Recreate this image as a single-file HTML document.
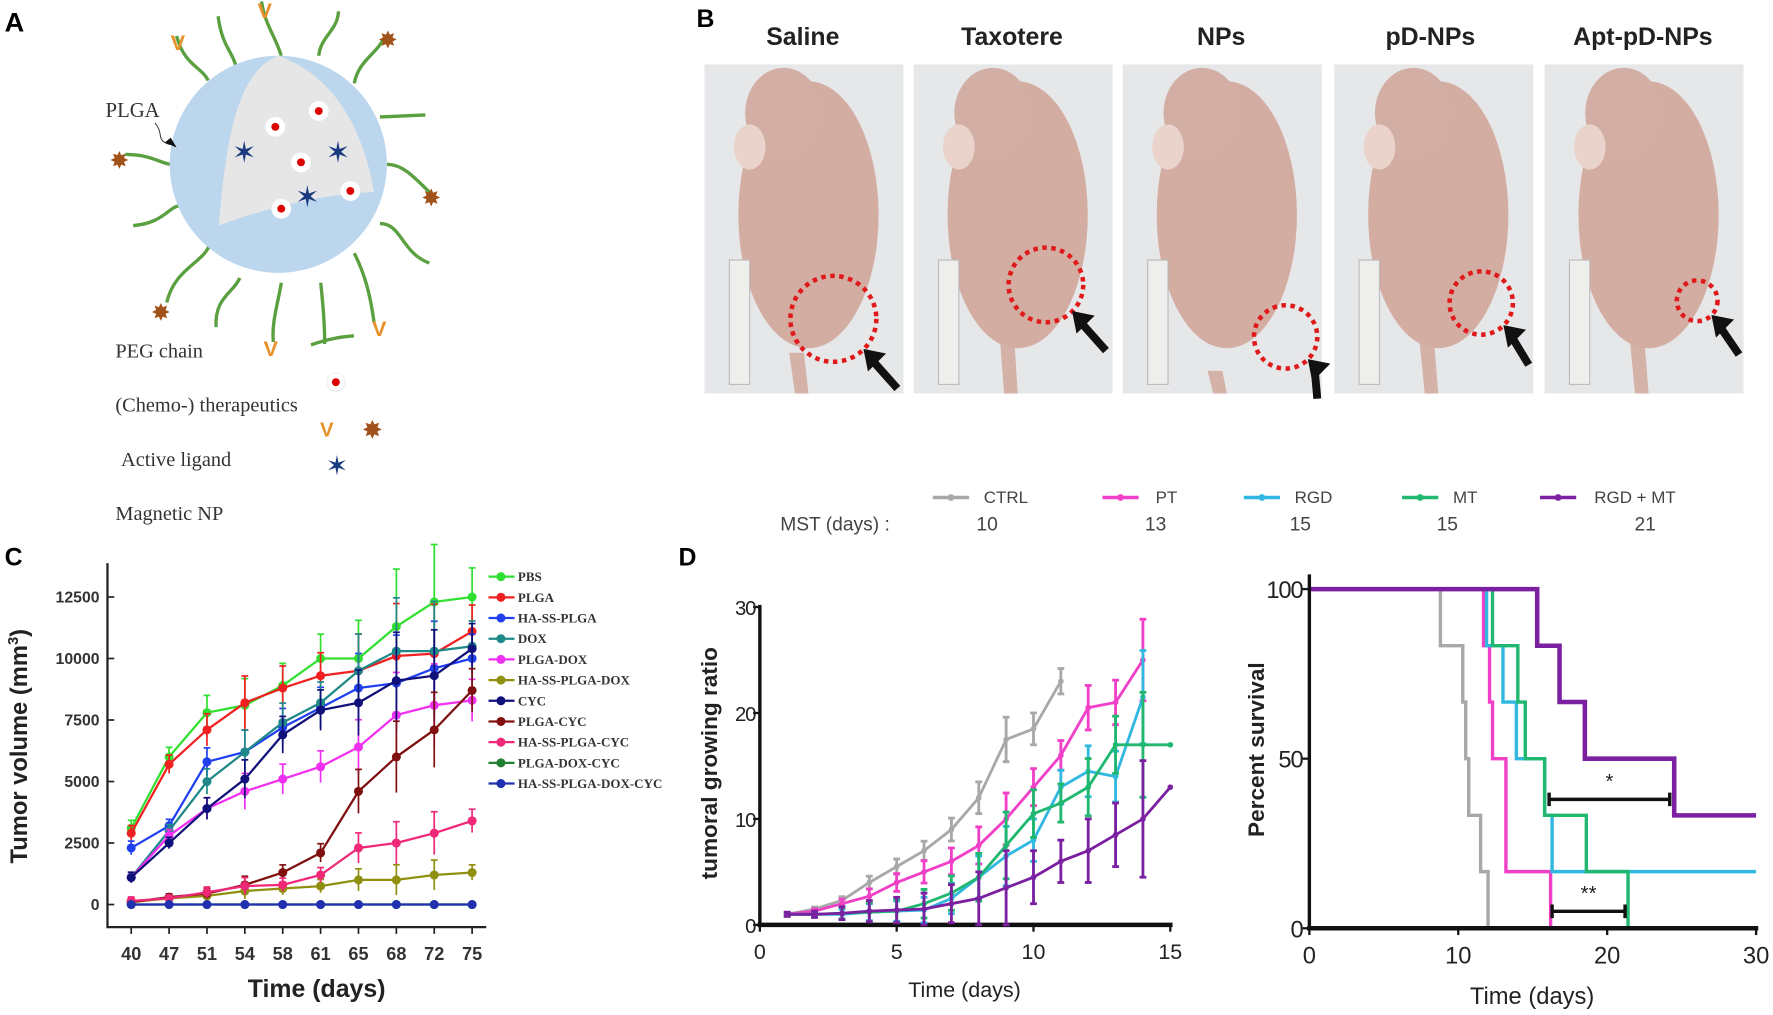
<!DOCTYPE html>
<html><head><meta charset="utf-8">
<style>
html,body{margin:0;padding:0;background:#fff;}
svg{display:block;}
text{font-family:"Liberation Sans",sans-serif;}
text.serif,.serif text{font-family:"Liberation Serif",serif;}
</style></head>
<body>
<svg id="fig" width="1773" height="1015" viewBox="0 0 1568 897.7" xmlns="http://www.w3.org/2000/svg">
<!-- Panel A -->
<g>
<text x="4" y="28" font-size="24" font-weight="bold">A</text>
<g transform="translate(6,-38) scale(0.873)">
<g stroke="#5aa040" stroke-width="3.4" fill="none">
<path d="M204,125 C196,110 180,110 172,80"/>
<path d="M232,110 C228,95 218,90 214,60"/>
<path d="M278,100 C272,80 262,70 258,45"/>
<path d="M316,100 C318,80 335,75 336,55"/>
<path d="M352,128 C356,105 375,98 382,82"/>
<path d="M378,162 L424,160"/>
<path d="M385,210 C400,210 410,220 430,240"/>
<path d="M378,270 C400,270 400,300 428,310"/>
<path d="M352,300 C362,320 368,340 372,370"/>
<path d="M318,330 C320,350 322,370 322,392"/>
<path d="M278,330 C275,350 268,370 270,390"/>
<path d="M236,325 C230,340 210,345 212,375"/>
<path d="M206,290 C200,310 170,315 162,350"/>
<path d="M178,252 C165,250 160,270 128,272"/>
<path d="M172,210 C158,212 150,200 120,200"/>
</g>
<circle cx="275" cy="210" r="110" fill="#bcd6ee"/>
<path d="M275,100 C235,115 222,180 215,272 C260,255 320,240 372,238 C360,170 330,120 275,100 Z" fill="#e6e6e6"/>
<g fill="#fff">
<circle cx="272" cy="172" r="10"/><circle cx="316" cy="156" r="10"/><circle cx="298" cy="208" r="10"/><circle cx="348" cy="237" r="10"/><circle cx="278" cy="255" r="10"/>
</g>
<g fill="#d00">
<circle cx="272" cy="172" r="4"/><circle cx="316" cy="156" r="4"/><circle cx="298" cy="208" r="4"/><circle cx="348" cy="237" r="4"/><circle cx="278" cy="255" r="4"/>
</g>
<g fill="#1a3a80" font-size="30">
<text x="228" y="208">✶</text><text x="323" y="208">✶</text><text x="292" y="253">✶</text>
</g>
<g fill="#a0521a" font-size="24">
<text x="376" y="92">✸</text><text x="420" y="252">✸</text><text x="104" y="214">✸</text><text x="146" y="368">✸</text>
</g>
<g fill="#e8902a" font-size="22" font-weight="bold">
<text x="254" y="62">V</text><text x="166" y="94">V</text><text x="370" y="384">V</text><text x="260" y="404">V</text>
</g>
<text x="100" y="162" font-size="21" class="serif" fill="#333">PLGA</text>
<path d="M150,168 C160,180 150,185 165,190" stroke="#333" fill="none"/><path d="M160,188 L172,193 L166,183Z" fill="#111"/>
</g>
<path d="M275,305 C290,300 300,298 313,297" stroke="#5aa040" stroke-width="3" fill="none"/>
<circle cx="297" cy="338" r="8" fill="#fff" stroke="#eee"/><circle cx="297" cy="338" r="3.5" fill="#d00"/>
<text x="283" y="386" fill="#e8902a" font-size="18" font-weight="bold">V</text>
<text x="320" y="388" fill="#a0521a" font-size="22">✸</text>
<text x="288" y="420" fill="#1a3a80" font-size="24">✶</text>
<g class="serif" font-size="18" fill="#333">
<text x="102" y="316">PEG chain</text>
<text x="102" y="364">(Chemo-) therapeutics</text>
<text x="107" y="412">Active ligand</text>
<text x="102" y="460">Magnetic NP</text>
</g>
</g>
<!-- Panel B -->
<g>
<text x="616" y="24" font-size="22" font-weight="bold">B</text>
<g font-size="22" font-weight="bold" text-anchor="middle" fill="#222">
<text x="710" y="40">Saline</text><text x="895" y="40">Taxotere</text><text x="1080" y="40">NPs</text><text x="1265" y="40">pD-NPs</text><text x="1453" y="40">Apt-pD-NPs</text>
</g>
<g id="photos"></g>
</g>
<!-- Legend D -->
<g fill="#444" font-size="15">
<text x="690" y="469" font-size="17">MST (days) :</text>
<g id="legD"></g>
</g>
<text x="4" y="500" font-size="22" font-weight="bold">C</text>
<text x="600" y="500" font-size="22" font-weight="bold">D</text>
<g id="chartC"></g>
<g id="chartD1"></g>
<g id="chartD2"></g>
</svg>
<script>
const NS="http://www.w3.org/2000/svg";
function mk(p,tag,at,txt){const e=document.createElementNS(NS,tag);for(const k in at)e.setAttribute(k,at[k]);if(txt!==undefined)e.textContent=txt;p.appendChild(e);return e;}

// ---------- Photos (B) ----------
const photoX=[623,808,993,1180,1366];
const tumorX=[737,925,1137,1310,1501];
const tumorY=[282,252,298,268,266];
const tumorR=[38,33,28,28,18];
const photos=document.getElementById('photos');
photoX.forEach((x,i)=>{
  const g=mk(photos,'g',{});
  
  
  mk(g,'rect',{x:x,y:57,width:176,height:291,fill:'#e6e7e9'});
  mk(g,'path',{d:`M${x+75},${tumorY[i]+30} L${x+80},348 L${x+92},348 L${x+88},${tumorY[i]+30}Z`,fill:'#d4b2a8'});
  mk(g,'ellipse',{cx:x+92,cy:190,rx:62,ry:118,fill:'#d3aca2'});
  mk(g,'ellipse',{cx:x+70,cy:100,rx:34,ry:40,fill:'#d2aea4'});
  mk(g,'ellipse',{cx:x+40,cy:130,rx:14,ry:20,fill:'#ead3cb'});
  mk(g,'rect',{x:x+22,y:230,width:18,height:110,fill:'#eeeeec',stroke:'#bbb'});
  const c=mk(g,'circle',{cx:tumorX[i],cy:tumorY[i],r:tumorR[i],fill:'none',stroke:'#e01a1a','stroke-width':4,'stroke-dasharray':'4 4'});
  
  
  const ax=tumorX[i]+tumorR[i]*0.7, ay=tumorY[i]+tumorR[i]*0.7;
  mk(g,'path',{d:`M${Math.min(ax+30,x+172)},${ay+35} L${ax+6},${ay+8}`,stroke:'#111','stroke-width':7});
  mk(g,'path',{d:`M${ax},${ay} L${ax+20},${ay+4} L${ax+4},${ay+20}Z`,fill:'#111'});
});

// ---------- Legend D ----------
const legNames=['CTRL','PT','RGD','MT','RGD + MT'];
const legColors=['#a8a8a8','#f040c8','#30b8e0','#20b870','#7a20a0'];
const mstVals=['10','13','15','15','21'];
const legLineX=[825,975,1100,1240,1362];
const legTextX=[870,1022,1145,1285,1410];
const mstX=[873,1022,1150,1280,1455];
const legD=document.getElementById('legD');
legNames.forEach((n,i)=>{
  const l=mk(legD,'line',{x1:legLineX[i],x2:legLineX[i]+32,y1:440,y2:440,stroke:legColors[i],'stroke-width':3});
  
  
  mk(legD,'circle',{cx:legLineX[i]+16,cy:440,r:3,fill:legColors[i]});
  mk(legD,'text',{x:legTextX[i],y:445},n);
  mk(legD,'text',{x:mstX[i],y:469,'font-size':17,'text-anchor':'middle'},mstVals[i]);
});

// ---------- Chart C ----------
const cDays=['40','47','51','54','58','61','65','68','72','75'];
const cNames=['PBS','PLGA','HA-SS-PLGA','DOX','PLGA-DOX','HA-SS-PLGA-DOX','CYC','PLGA-CYC','HA-SS-PLGA-CYC','PLGA-DOX-CYC','HA-SS-PLGA-DOX-CYC'];
const cColors=['#30e030','#f02020','#2040f0','#208888','#f030f0','#909010','#10107a','#801010','#f02878','#208030','#2030b0'];
const PBS=[3100,6000,7800,8100,8900,10000,10000,11300,12300,12500];
const PLGA=[2900,5700,7100,8200,8800,9300,9500,10100,10200,11100];
const HASSPLGA=[2300,3200,5800,6200,7200,8000,8800,9000,9600,10000];
const DOX=[1100,3000,5000,6200,7400,8200,9500,10300,10300,10500];
const PLGADOX=[1100,2800,3900,4600,5100,5600,6400,7700,8100,8300];
const HASSPLGADOX=[100,250,350,550,650,750,1000,1000,1200,1300];
const CYC=[1100,2500,3900,5100,6900,7900,8200,9100,9300,10400];
const PLGACYC=[100,300,450,800,1300,2100,4600,6000,7100,8700];
const HASSPLGACYC=[150,250,500,750,800,1200,2300,2500,2900,3400];
const PLGADOXCYC=[0,0,0,0,0,0,0,0,0,0];
const HASSPLGADOXCYC=[0,0,0,0,0,0,0,0,0,0];
const cErr=[500,400,600,900,700,700,1100,1500,1400,700];
const cTicks=[0,2500,5000,7500,10000,12500];
const cSeries=[PBS,PLGA,HASSPLGA,DOX,PLGADOX,HASSPLGADOX,CYC,PLGACYC,HASSPLGACYC,PLGADOXCYC,HASSPLGADOXCYC];
(function(){
  const g=document.getElementById('chartC');
  const x0=116,dx=33.5,yZ=800,py=54.4/2500;
  const X=i=>x0+i*dx, Y=v=>yZ-v*py;
  mk(g,'line',{x1:95,x2:95,y1:498,y2:821,stroke:'#222','stroke-width':2});
  mk(g,'line',{x1:95,x2:430,y1:820,y2:820,stroke:'#222','stroke-width':2});
  cTicks.forEach(t=>{mk(g,'line',{x1:95,x2:101,y1:Y(t),y2:Y(t),stroke:'#222','stroke-width':1.5});
    mk(g,'text',{x:88,y:Y(t)+5,'text-anchor':'end','font-size':14,'font-weight':'bold',fill:'#333'},t);});
  cDays.forEach((d,i)=>{mk(g,'line',{x1:X(i),x2:X(i),y1:820,y2:826,stroke:'#222','stroke-width':1.5});
    mk(g,'text',{x:X(i),y:849,'text-anchor':'middle','font-size':16,'font-weight':'bold',fill:'#333'},d);});
  const yt=mk(g,'text',{x:0,y:0,transform:'translate(24,660) rotate(-90)','text-anchor':'middle','font-size':21,'font-weight':'bold',fill:'#222'},'Tumor volume (mm');
  
  
  mk(yt,'tspan',{'font-size':13,dy:-8},'3');mk(yt,'tspan',{dy:8},')');
  const xt=mk(g,'text',{x:280,y:882,'text-anchor':'middle','font-size':22,'font-weight':'bold',fill:'#222'},'Time (days)');
  
  
  cSeries.forEach((s,k)=>{
    const col=cColors[k];
    const sg=mk(g,'g',{});
    
    
    s.forEach((v,i)=>{ if(v>0){const e=cErr[i]*(v/9000+0.3);
      mk(sg,'line',{x1:X(i),x2:X(i),y1:Y(v-e),y2:Y(v+e),stroke:col,'stroke-width':1.5});
      mk(sg,'line',{x1:X(i)-3,x2:X(i)+3,y1:Y(v+e),y2:Y(v+e),stroke:col,'stroke-width':1.5});}});
    mk(sg,'polyline',{points:s.map((v,i)=>X(i)+','+Y(v)).join(' '),fill:'none',stroke:col,'stroke-width':2});
    s.forEach((v,i)=>mk(sg,'circle',{cx:X(i),cy:Y(v),r:4,fill:col}));
    const ly=510+k*18.3;
    const le=mk(g,'line',{x1:432,x2:455,y1:ly,y2:ly,stroke:col,'stroke-width':2});
    
    
    mk(g,'circle',{cx:443,cy:ly,r:4,fill:col});
    mk(g,'text',{x:458,y:ly+4,'font-size':11.5,'font-weight':'bold',class:'serif',fill:'#333'},cNames[k]);
  });
})();

// ---------- Chart D growth ----------
const gDaysCTRL=[1,2,3,4,5,6,7,8,9,10,11];
const gCTRL=[1,1.5,2.3,4,5.5,7,9,12,17.5,18.5,23];
const gDaysPT=[1,2,3,4,5,6,7,8,9,10,11,12,13,14];
const gPT=[1,1.3,2,2.7,4,5,6,7.5,10,13,16,20.5,21,25];
const gDaysRGD=[1,2,3,4,5,6,7,8,9,10,11,12,13,14];
const gRGD=[1,1,1,1.2,1.3,1.4,2.5,4.5,6.5,8,13,14.5,14,21.5];
const gDaysMT=[1,2,3,4,5,6,7,8,9,10,11,12,13,14,15];
const gMT=[1,1,1.1,1.2,1.3,2,3,4.5,7.5,10.5,11.5,13,17,17,17];
const gDaysRM=[1,2,3,4,5,6,7,8,9,10,11,12,13,14,15];
const gRM=[1,1,1.1,1.3,1.4,1.5,2,2.5,3.5,4.5,6,7,8.5,10,13];
const gErr=[0.2,0.3,0.6,1,1.2,1.5,1.8,2.5,3.5,2.5,2,3,3,5.5,0];
const gTicksX=[0,5,10,15];
const gTicksY=[0,10,20,30];
(function(){
  const g=document.getElementById('chartD1');
  const X=d=>672+d*24.2, Y=v=>818-v*9.37;
  mk(g,'line',{x1:672,x2:672,y1:535,y2:820,stroke:'#111','stroke-width':3});
  mk(g,'line',{x1:670,x2:1037,y1:818,y2:818,stroke:'#111','stroke-width':4});
  gTicksY.forEach(t=>{mk(g,'line',{x1:666,x2:672,y1:Y(t),y2:Y(t),stroke:'#111','stroke-width':2});
    mk(g,'text',{x:668,y:Y(t)+7,'text-anchor':'end','font-size':18,fill:'#222','letter-spacing':'-1'},t);});
  gTicksX.forEach(t=>{mk(g,'line',{x1:X(t),x2:X(t),y1:818,y2:824,stroke:'#111','stroke-width':2});
    mk(g,'text',{x:X(t),y:848,'text-anchor':'middle','font-size':19,fill:'#222'},t);});
  const yt=mk(g,'text',{x:0,y:0,transform:'translate(634,675) rotate(-90)','text-anchor':'middle','font-size':20,'font-weight':'bold',fill:'#222'},'tumoral growing ratio');
  
  
  const xt=mk(g,'text',{x:853,y:882,'text-anchor':'middle','font-size':19,fill:'#222'},'Time (days)');
  
  
  const S=[[gDaysCTRL,gCTRL],[gDaysPT,gPT],[gDaysRGD,gRGD],[gDaysMT,gMT],[gDaysRM,gRM]];
  S.forEach((s,k)=>{
    const col=legColors[k];
    const sg=mk(g,'g',{});
    
    
    s[0].forEach((d,i)=>{const v=s[1][i],e=gErr[i]*(0.6+0.1*k%2);
      if(e>0){mk(sg,'line',{x1:X(d),x2:X(d),y1:Y(v-e),y2:Y(v+e),stroke:col,'stroke-width':2.5});
      mk(sg,'line',{x1:X(d)-3,x2:X(d)+3,y1:Y(v+e),y2:Y(v+e),stroke:col,'stroke-width':2.5});
      mk(sg,'line',{x1:X(d)-3,x2:X(d)+3,y1:Y(v-e),y2:Y(v-e),stroke:col,'stroke-width':2.5});}});
    mk(sg,'polyline',{points:s[0].map((d,i)=>X(d)+','+Y(s[1][i])).join(' '),fill:'none',stroke:col,'stroke-width':2.5});
    s[0].forEach((d,i)=>mk(sg,'circle',{cx:X(d),cy:Y(s[1][i]),r:2.5,fill:col}));
  });
})();

// ---------- Chart D survival ----------
const sT_CTRL=[0,8.8,10.3,10.5,10.7,11.5,12];
const sV_CTRL=[100,83.3,66.7,50,33.3,16.7,0];
const sT_PT=[0,11.7,12.1,12.3,13.2,16.2];
const sV_PT=[100,83.3,66.7,50,16.7,0];
const sT_RGD=[0,11.9,13,13.9,15.8,16.3,30];
const sV_RGD=[100,83.3,66.7,50,33.3,16.7,16.7];
const sT_MT=[0,12.3,14,14.5,15.8,18.6,21.4];
const sV_MT=[100,83.3,66.7,50,33.3,16.7,0];
const sT_RM=[0,15.3,16.8,18.5,24.5,30];
const sV_RM=[100,83.3,66.7,50,33.3,33.3];
const sTicksX=[0,10,20,30];
const sTicksY=[0,50,100];
(function(){
  const g=document.getElementById('chartD2');
  const X=d=>1158+d*13.17, Y=v=>821-v*3;
  const S=[[sT_CTRL,sV_CTRL],[sT_PT,sV_PT],[sT_RGD,sV_RGD],[sT_MT,sV_MT],[sT_RM,sV_RM]];
  S.forEach((s,k)=>{
    const col=legColors[k];let p='';
    s[0].forEach((t,i)=>{ if(i===0)p+=`M${X(t)},${Y(s[1][i])}`; else p+=` H${X(t)} V${Y(s[1][i])}`;});
    const path=mk(g,'path',{d:p,fill:'none',stroke:col,'stroke-width':k===4?4:3});
    
    
  });
  mk(g,'line',{x1:1158,x2:1158,y1:508,y2:823,stroke:'#111','stroke-width':3});
  mk(g,'line',{x1:1156,x2:1555,y1:821,y2:821,stroke:'#111','stroke-width':4});
  sTicksY.forEach(t=>{mk(g,'line',{x1:1152,x2:1158,y1:Y(t),y2:Y(t),stroke:'#111','stroke-width':2});
    mk(g,'text',{x:1152,y:Y(t)+8,'text-anchor':'end','font-size':21,fill:'#222','letter-spacing':'-1'},t);});
  sTicksX.forEach(t=>{mk(g,'line',{x1:X(t),x2:X(t),y1:821,y2:827,stroke:'#111','stroke-width':2});
    mk(g,'text',{x:X(t),y:852,'text-anchor':'middle','font-size':21,fill:'#222'},t);});
  const yt=mk(g,'text',{x:0,y:0,transform:'translate(1118,663) rotate(-90)','text-anchor':'middle','font-size':20,'font-weight':'bold',fill:'#222'},'Percent survival');
  
  
  const xt=mk(g,'text',{x:1355,y:888,'text-anchor':'middle','font-size':21,fill:'#222'},'Time (days)');
  
  
  const br=[[16.1,24.2,38,'*'],[16.3,21.2,5,'**']];
  br.forEach(b=>{const bg=mk(g,'g',{});
    
    
    mk(bg,'path',{d:`M${X(b[0])},${Y(b[2])-6} V${Y(b[2])+6} M${X(b[0])},${Y(b[2])} H${X(b[1])} M${X(b[1])},${Y(b[2])-6} V${Y(b[2])+6}`,stroke:'#111','stroke-width':3,fill:'none'});
    mk(bg,'text',{x:(X(b[0])+X(b[1]))/2,y:Y(b[2])-10,'text-anchor':'middle','font-size':18,fill:'#222'},b[3]);});
})();
</script>
</body></html>
